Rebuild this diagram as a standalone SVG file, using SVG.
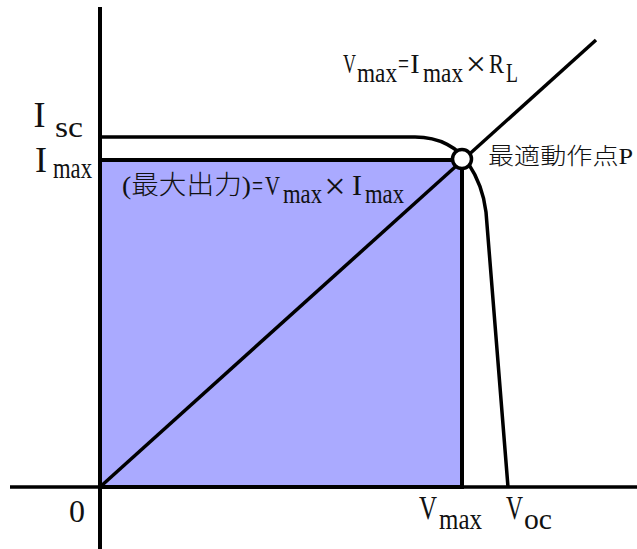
<svg xmlns="http://www.w3.org/2000/svg" width="637" height="549" viewBox="0 0 637 549">
<style>
.t{font-family:"Liberation Serif","Noto Sans CJK JP",serif;fill:#111;}
.j{font-family:"Liberation Serif","Noto Sans CJK JP",sans-serif;font-weight:300;fill:#111;}
.ln{fill:none;stroke:#000;stroke-linecap:butt;}
.m{text-anchor:middle;}
</style>
<rect width="637" height="549" fill="#fff"/>
<g id="power-area">
<rect x="100" y="160" width="362" height="327" fill="#aaaaff" stroke="#000" stroke-width="4"/>
</g>
<g id="connectors">
<line class="ln" x1="100" y1="7" x2="100" y2="549" stroke-width="4"/>
<line class="ln" x1="10" y1="487" x2="637" y2="487" stroke-width="3.5"/>
<path class="ln" d="M100,137 H415 C440,137 458,148 468,163 C478,178 484,195 486,212 L508,487" stroke-width="3.5"/>
<line class="ln" x1="100" y1="487" x2="596" y2="40" stroke-width="3.5"/>
</g>
<g id="point-p">
<circle cx="462" cy="159" r="9.5" fill="#fff" stroke="#000" stroke-width="3.5"/>
</g>
<g id="label-load-line" class="t" font-size="28">
<text x="343" y="73" textLength="13" lengthAdjust="spacingAndGlyphs">V</text>
<text x="357" y="82" textLength="40" lengthAdjust="spacingAndGlyphs">max</text>
<text x="398" y="73" textLength="11" lengthAdjust="spacingAndGlyphs">=</text>
<text class="m" x="415" y="73">I</text>
<text x="423" y="82" textLength="40" lengthAdjust="spacingAndGlyphs">max</text>
<text class="m" x="476" y="76" font-size="36">×</text>
<text x="489" y="73" textLength="15" lengthAdjust="spacingAndGlyphs">R</text>
<text x="506" y="82" textLength="12" lengthAdjust="spacingAndGlyphs">L</text>
</g>
<g id="label-point-p">
<text class="j" x="488" y="164" font-size="23" textLength="145" lengthAdjust="spacingAndGlyphs">最適動作点P</text>
</g>
<g id="label-power" class="t" font-size="28">
<text class="j" x="122" y="194" font-size="26" textLength="129" lengthAdjust="spacingAndGlyphs">(最大出力)</text>
<text x="252" y="195" textLength="11" lengthAdjust="spacingAndGlyphs">=</text>
<text x="265" y="195" textLength="15" lengthAdjust="spacingAndGlyphs">V</text>
<text x="283" y="203" textLength="39" lengthAdjust="spacingAndGlyphs">max</text>
<text class="m" x="335" y="199" font-size="38">×</text>
<text class="m" x="357" y="195" font-size="30">I</text>
<text x="365" y="203" textLength="39" lengthAdjust="spacingAndGlyphs">max</text>
</g>
<g id="label-isc" class="t">
<text class="m" x="39.5" y="127" font-size="36">I</text>
<text x="55" y="137" font-size="30" textLength="28" lengthAdjust="spacingAndGlyphs">sc</text>
</g>
<g id="label-imax" class="t">
<text class="m" x="41" y="172" font-size="36">I</text>
<text x="53" y="178" font-size="30" textLength="39" lengthAdjust="spacingAndGlyphs">max</text>
</g>
<g id="label-origin" class="t">
<text x="77" y="522" font-size="32" text-anchor="middle">0</text>
</g>
<g id="label-vmax" class="t">
<text x="419" y="519" font-size="34" textLength="18" lengthAdjust="spacingAndGlyphs">V</text>
<text x="439" y="529" font-size="30" textLength="43" lengthAdjust="spacingAndGlyphs">max</text>
</g>
<g id="label-voc" class="t">
<text x="506" y="519" font-size="34" textLength="17" lengthAdjust="spacingAndGlyphs">V</text>
<text x="524" y="529" font-size="30" textLength="28" lengthAdjust="spacingAndGlyphs">oc</text>
</g>
</svg>
